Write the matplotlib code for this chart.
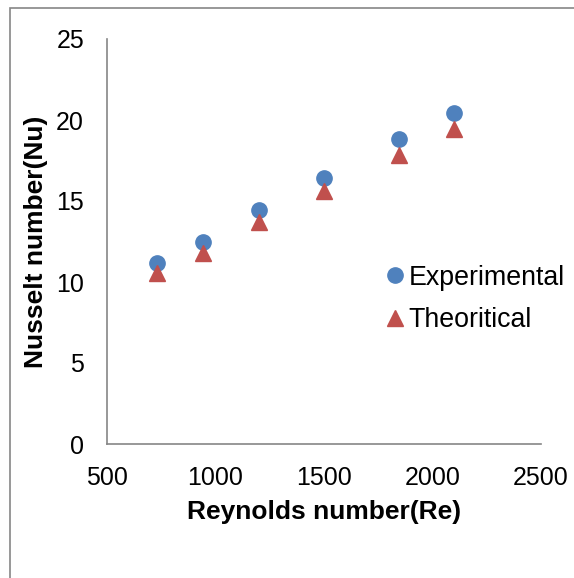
import matplotlib.pyplot as plt
from matplotlib.patches import Rectangle

plt.rcParams['font.family'] = ['Liberation Sans', 'DejaVu Sans']

reynolds = [730, 945, 1200, 1500, 1845, 2100]
nu_experimental = [11.15, 12.45, 14.45, 16.4, 18.8, 20.45]
nu_theoretical = [10.55, 11.8, 13.7, 15.6, 17.85, 19.45]

x_ticks = [500, 1000, 1500, 2000, 2500]
y_ticks = [0, 5, 10, 15, 20, 25]

blue = '#4F81BD'
red = '#C0504D'
gray = '#868686'

fig = plt.figure(figsize=(5.74, 5.78), dpi=100)
ax = fig.add_axes([107 / 574, 1 - 444 / 578, (540.7 - 107) / 574, (444 - 39) / 578])

ax.plot(reynolds, nu_experimental, 'o', color=blue, markersize=11, label='Experimental', clip_on=False)
ax.plot(reynolds, nu_theoretical, '^', color=red, markersize=11, label='Theoritical', clip_on=False)

ax.set_xlim(500, 2500)
ax.set_ylim(0, 25)
ax.set_xticks(x_ticks)
ax.set_yticks(y_ticks)
ax.tick_params(length=0, labelsize=18, pad=16)
ax.tick_params(axis='y', pad=16.5)

for side in ['top', 'right']:
    ax.spines[side].set_visible(False)
for side in ['left', 'bottom']:
    ax.spines[side].set_color(gray)
    ax.spines[side].set_linewidth(1.2)

ax.set_xlabel('Reynolds number(Re)', fontsize=19, fontweight='bold', labelpad=7)
ax.set_ylabel('Nusselt number(Nu)', fontsize=19, fontweight='bold', labelpad=6)

ax.legend(loc='center left', bbox_to_anchor=(387 / 574, 1 - 299 / 578), bbox_transform=fig.transFigure,
          frameon=False, fontsize=19.3, handlelength=0.6, handletextpad=0.2, labelspacing=0.63,
          borderpad=0, borderaxespad=0)

# outer chart border (cut off at the right and bottom)
fig.patches.append(Rectangle((10 / 574, -0.1), 1.2, 1 - 8 / 578 + 0.1, transform=fig.transFigure,
                             fill=False, edgecolor=gray, linewidth=1.2))

fig.savefig('out.png', dpi=100)
